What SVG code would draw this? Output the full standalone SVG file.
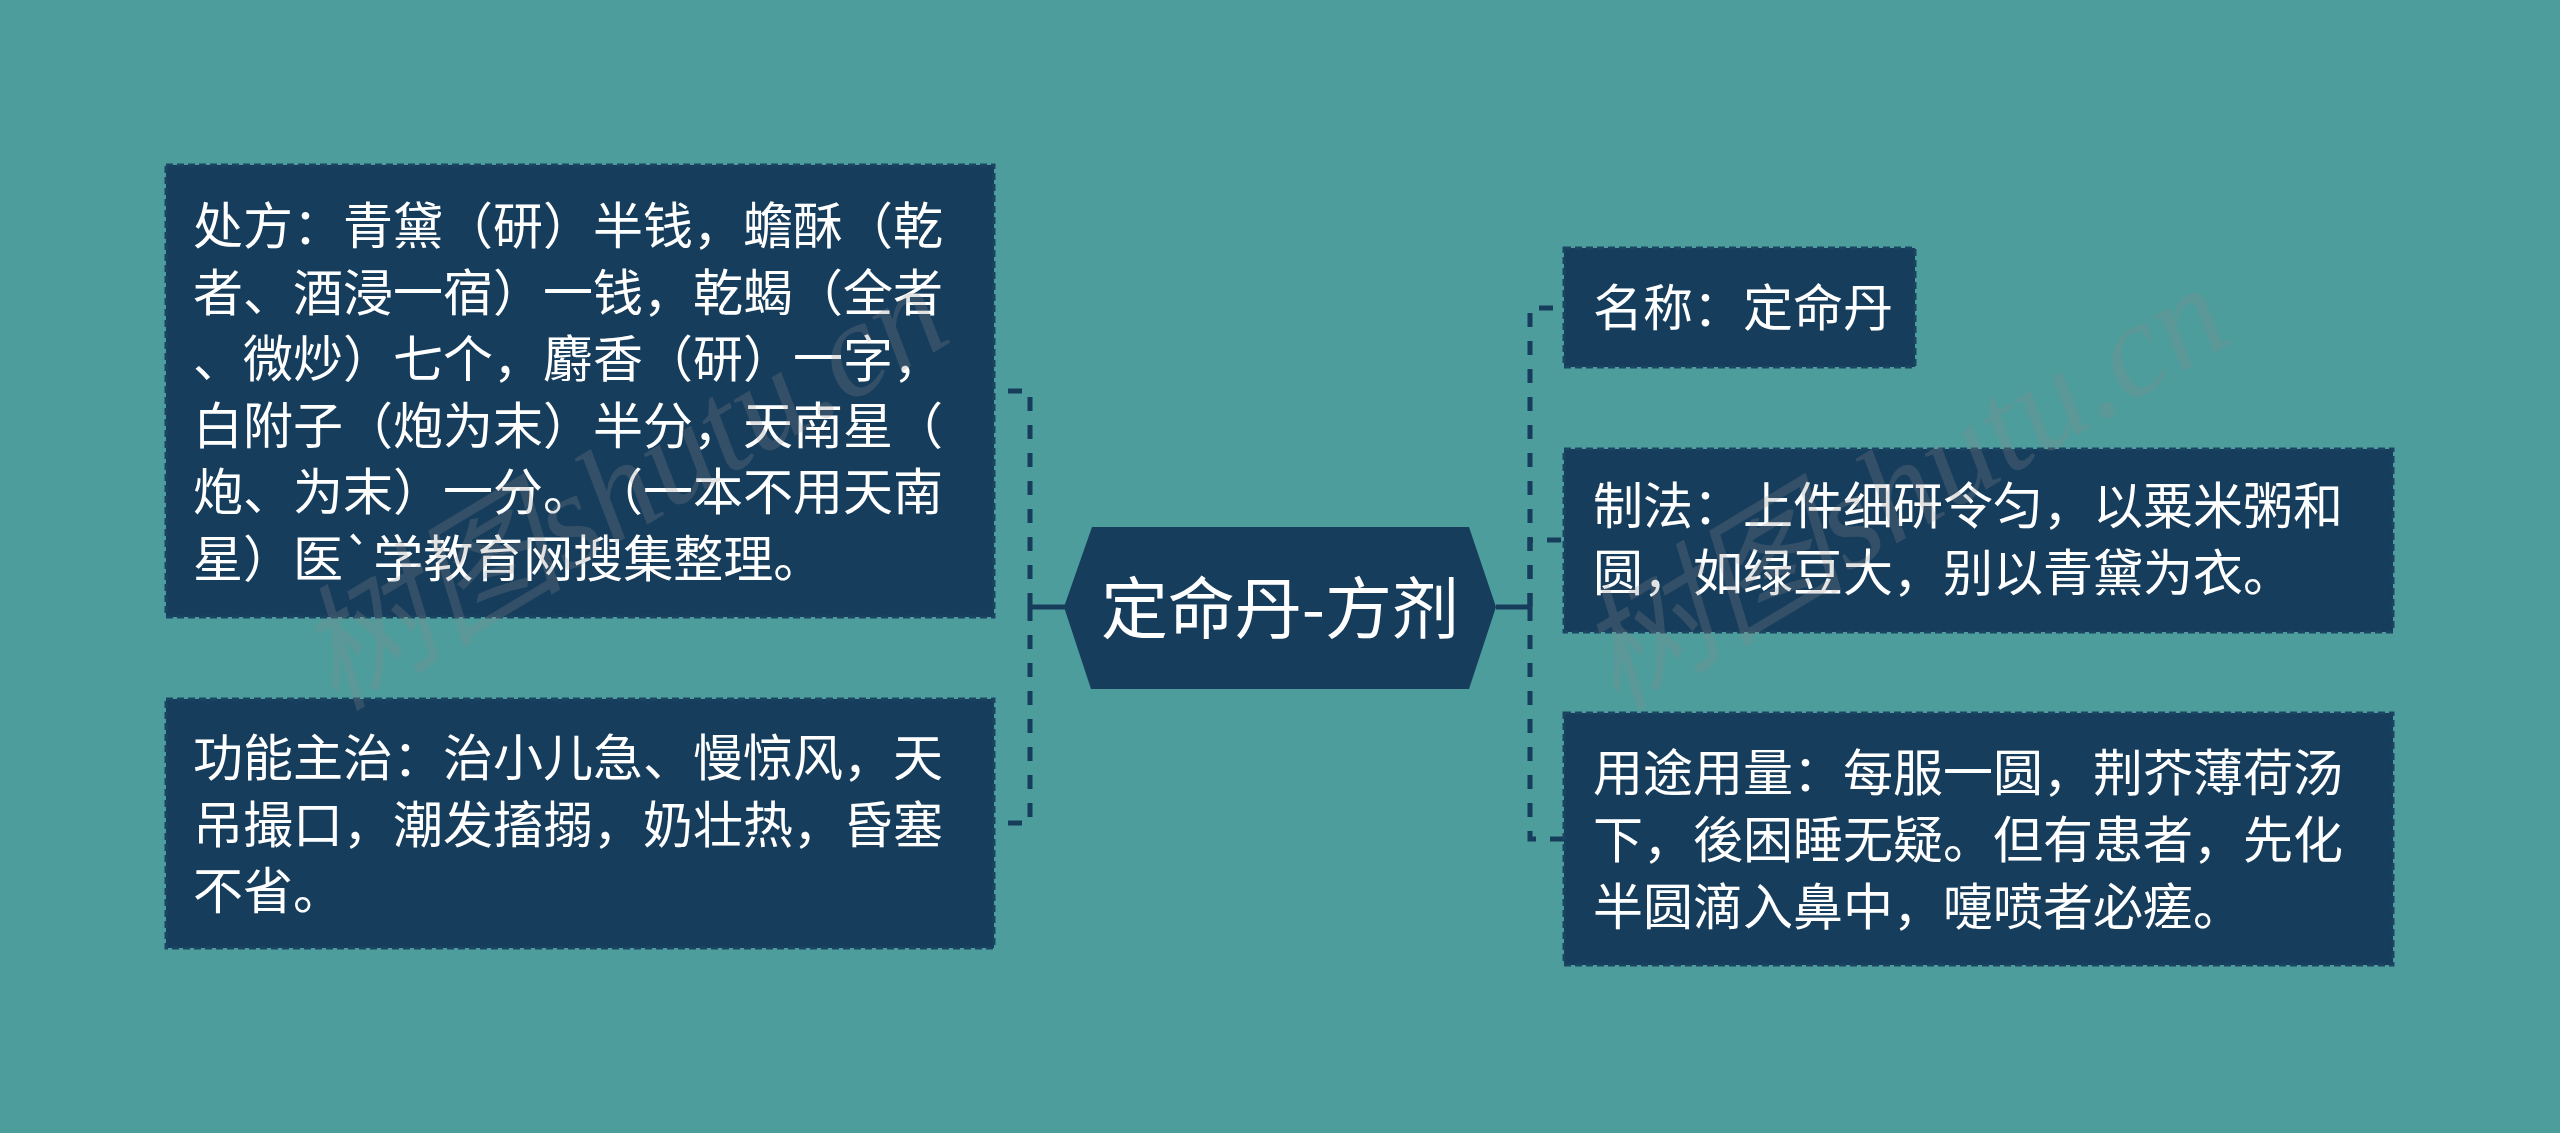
<svg xmlns="http://www.w3.org/2000/svg" width="2560" height="1133" viewBox="0 0 2560 1133">
<style>
.bg{fill:#4e9d9d}
.box{fill:#163d5c;stroke:#1b4462;stroke-width:3;stroke-dasharray:7 4}
.hex{fill:#163d5c}
.t{font-family:"Noto Sans CJK SC","Noto Sans",sans-serif;font-size:50px;fill:#ffffff;text-spacing-trim:space-all}
.ct{font-family:"Noto Sans CJK SC","Noto Sans",sans-serif;font-size:67px;fill:#ffffff;text-anchor:middle}
.ln{fill:none;stroke:#163d5c;stroke-width:5}
.dl{fill:none;stroke:#163d5c;stroke-width:5;stroke-dasharray:14 14}
.wm{font-family:"Liberation Serif","Noto Sans CJK SC",serif;font-style:italic;font-size:135px;fill:#8a8a8a;fill-opacity:0.25}
</style>
<rect class="bg" x="0" y="0" width="2560" height="1133"/>
<g id="connectors">
<path class="ln" d="M1065,607 H1030"/>
<path class="ln" d="M1496,607 H1530"/>
<path class="dl" d="M1030,607 V391 H994"/>
<path class="dl" d="M1030,607 V823 H994"/>
<path class="dl" d="M1530,607 V308 H1564"/>
<path class="dl" d="M1530,607 V540 H1564"/>
<path class="dl" d="M1530,607 V839 H1564"/>
</g>
<g id="center">
<polygon class="hex" points="1064,607 1092,527 1469,527 1496,607 1469,689 1091,689"/>
<text class="ct" x="1280" y="633">定命丹-方剂</text>
</g>
<g id="n-chufang">
<rect class="box" x="166" y="165" width="828" height="452"/>
<text class="t" x="193" y="244">处方：青黛（研）半钱，蟾酥（乾</text>
<text class="t" x="193" y="310.5">者、酒浸一宿）一钱，乾蝎（全者</text>
<text class="t" x="193" y="377">、微炒）七个，麝香（研）一字，</text>
<text class="t" x="193" y="443.5">白附子（炮为末）半分，天南星（</text>
<text class="t" x="193" y="510">炮、为末）一分。（一本不用天南</text>
<text class="t" x="193" y="576.5">星）医`学教育网搜集整理。</text>
</g>
<g id="n-gongneng">
<rect class="box" x="166" y="699" width="828" height="249"/>
<text class="t" x="193" y="776">功能主治：治小儿急、慢惊风，天</text>
<text class="t" x="193" y="842.5">吊撮口，潮发搐搦，奶壮热，昏塞</text>
<text class="t" x="193" y="909">不省。</text>
</g>
<g id="n-mingcheng">
<rect class="box" x="1564" y="248" width="351" height="119"/>
<text class="t" x="1593" y="326">名称：定命丹</text>
</g>
<g id="n-zhifa">
<rect class="box" x="1564" y="449" width="829" height="183"/>
<text class="t" x="1593" y="524">制法：上件细研令匀，以粟米粥和</text>
<text class="t" x="1593" y="591">圆，如绿豆大，别以青黛为衣。</text>
</g>
<g id="n-yongtu">
<rect class="box" x="1564" y="713" width="829" height="252"/>
<text class="t" x="1593" y="791">用途用量：每服一圆，荆芥薄荷汤</text>
<text class="t" x="1593" y="858">下，後困睡无疑。但有患者，先化</text>
<text class="t" x="1593" y="925">半圆滴入鼻中，嚏喷者必瘥。</text>
</g>
<g id="watermarks">
<text class="wm" transform="translate(335,712) rotate(-31)">树图shutu.cn</text>
<text class="wm" transform="translate(1616,712) rotate(-31)">树图shutu.cn</text>
</g>
</svg>
